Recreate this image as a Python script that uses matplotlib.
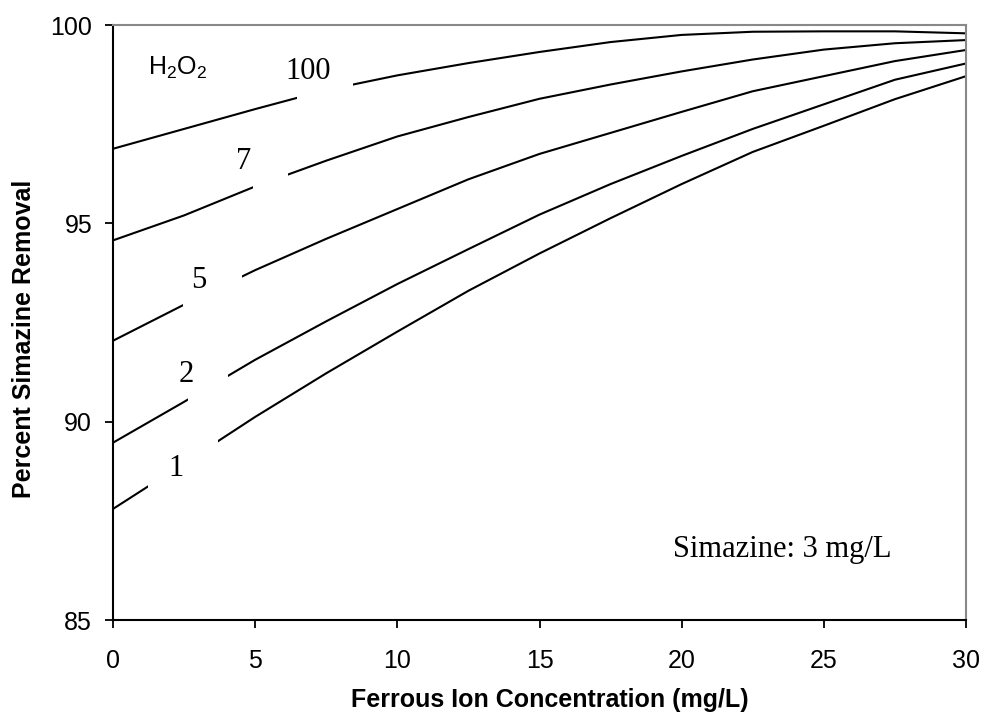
import numpy as np
import matplotlib
matplotlib.use("Agg")
import matplotlib.pyplot as plt
from matplotlib.patches import Rectangle

plt.rcParams['font.family'] = ['Liberation Sans', 'DejaVu Sans']

# ferrous ion dose (mg/L) and percent simazine removal for each H2O2 dose
ferrous = [0, 2.5, 5, 7.5, 10, 12.5, 15, 17.5, 20, 22.5, 25, 27.5, 30]
h2o2_1 = [87.80, 88.95, 90.12, 91.22, 92.27, 93.30, 94.24, 95.13, 95.99, 96.80, 97.46, 98.13, 98.71]
h2o2_2 = [89.47, 90.50, 91.56, 92.53, 93.47, 94.35, 95.22, 95.99, 96.70, 97.38, 98.00, 98.62, 99.03]
h2o2_5 = [92.04, 92.95, 93.82, 94.61, 95.36, 96.11, 96.75, 97.28, 97.81, 98.33, 98.71, 99.09, 99.37]
h2o2_7 = [94.57, 95.20, 95.93, 96.58, 97.19, 97.68, 98.14, 98.50, 98.83, 99.13, 99.38, 99.54, 99.62]
h2o2_100 = [96.88, 97.38, 97.88, 98.36, 98.73, 99.04, 99.32, 99.57, 99.75, 99.83, 99.84, 99.84, 99.79]

curves = [h2o2_1, h2o2_2, h2o2_5, h2o2_7, h2o2_100]
curve_labels = ["1", "2", "5", "7", "100"]

# where the label boxes break each line (x range), and label centres
label_gaps = [(1.24, 3.70), (2.65, 4.06), (2.47, 4.52), (4.94, 6.17), (6.46, 8.45)]
label_xy = [(2.23, 88.81), (2.59, 91.18), (3.01, 93.55), (4.61, 96.55), (6.86, 98.82)]

fig = plt.figure(figsize=(9.82, 7.16), dpi=100)
ax = fig.add_axes([113 / 982, 1 - 620 / 716, 853 / 982, 595 / 716])

for vals, lab, gap, pos in zip(curves, curve_labels, label_gaps, label_xy):
    ax.plot(ferrous, vals, color='black', lw=1.5, zorder=2)
    # white box hiding the line behind the label, like the excel text box
    y_ends = np.interp(gap, ferrous, vals)
    y0 = y_ends.min() - 0.15
    y1 = y_ends.max() + 0.15
    ax.add_patch(Rectangle((gap[0], y0), gap[1] - gap[0], y1 - y0,
                           facecolor='white', edgecolor='none', zorder=3))
    ax.text(pos[0], pos[1], lab, ha='center', va='center', fontsize=22,
            family='Liberation Serif', zorder=4)

ax.text(2.27, 98.74, r'H$_\mathregular{2}$O$_\mathregular{2}$', ha='center',
        va='baseline', fontsize=18, zorder=4)
ax.text(19.69, 86.77, "Simazine: 3 mg/L", ha='left', va='center', fontsize=22,
        family='Liberation Serif')

ax.set_xlim(0, 30)
ax.set_ylim(85, 100)
ax.set_xticks(range(0, 31, 5))
ax.set_yticks([85, 90, 95, 100])
ax.tick_params(direction='out', length=6, width=1.3, labelsize=18, color='black')
ax.tick_params(axis='x', pad=15)
ax.tick_params(axis='y', pad=9)

for side in ['left', 'bottom']:
    ax.spines[side].set_color('black')
    ax.spines[side].set_linewidth(1.5)
for side in ['top', 'right']:
    ax.spines[side].set_color('#888888')
    ax.spines[side].set_linewidth(1.5)

fig.text(549.5 / 982, 1 - 700 / 716, "Ferrous Ion Concentration (mg/L)",
         ha='center', va='center', fontsize=18, fontweight='bold')
fig.text(24 / 982, 1 - 339 / 716, "Percent Simazine Removal", rotation=90,
         ha='center', va='center', fontsize=18, fontweight='bold')

fig.savefig("out.png", dpi=100)
